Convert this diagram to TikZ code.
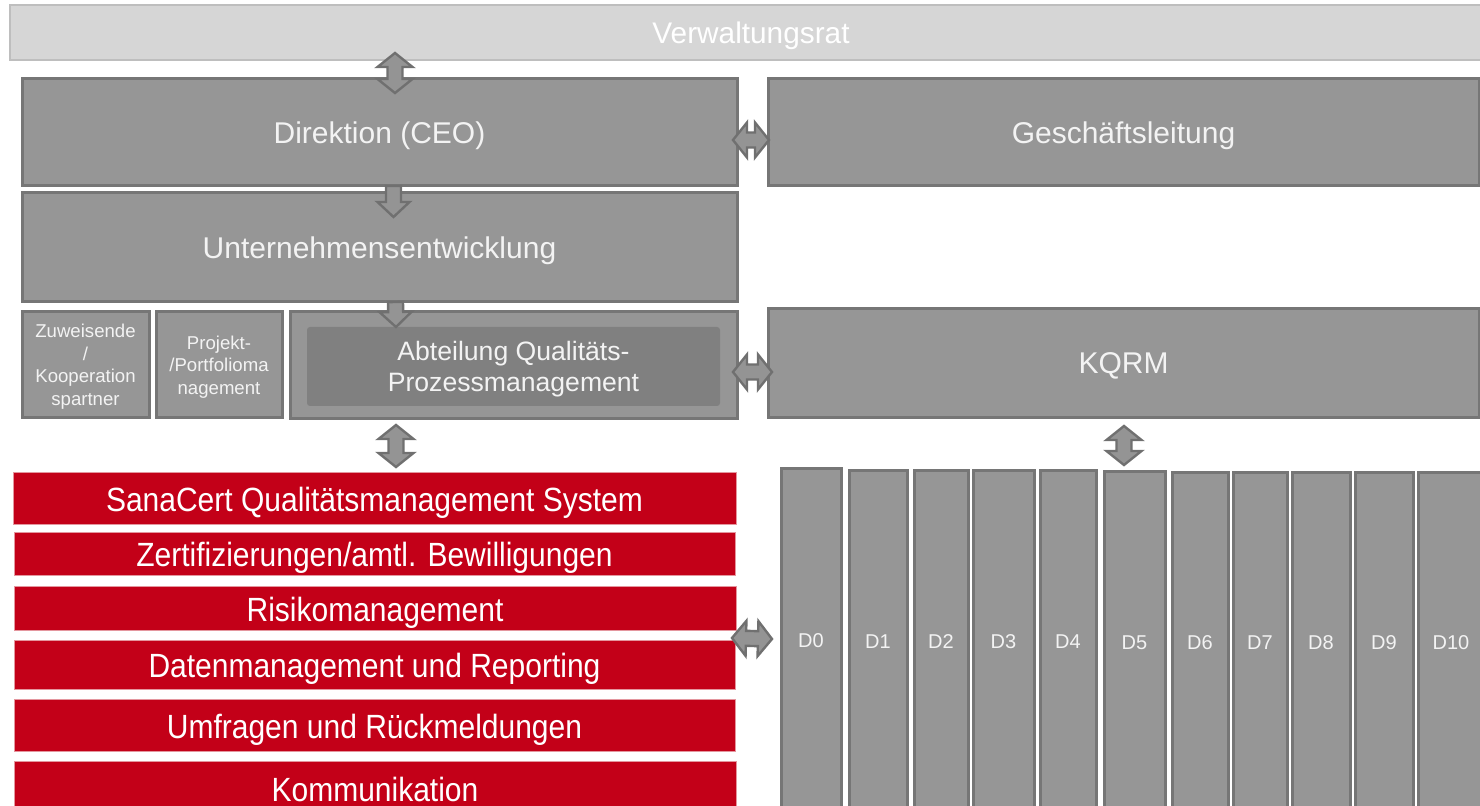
\documentclass[tikz,border=0pt]{standalone}
\usepackage{fontspec}
\usepackage{graphicx}
\setmainfont{Liberation Sans}
\usetikzlibrary{calc}

\definecolor{boxgray}{RGB}{150,150,150}
\definecolor{boxline}{RGB}{118,118,118}
\definecolor{topfill}{RGB}{214,214,214}
\definecolor{topline}{RGB}{190,190,190}
\definecolor{innergray}{RGB}{128,128,128}
\definecolor{qmred}{RGB}{195,0,24}
\definecolor{qmredline}{RGB}{228,150,158}
\definecolor{arrowfill}{RGB}{148,148,148}
\definecolor{arrowline}{RGB}{112,112,112}
\definecolor{lighttext}{RGB}{243,243,243}

% point of a block arrow: #1 along the arrow, #2 across it (both in pt)
\newcommand\blkpt[2]{({\x1+(#1)*\n2-(#2)*\n3},{\y1+(#1)*\n3+(#2)*\n2})}
% box given by its pixel corners (x1,y1) -- (x2,y2)
\newcommand\placebox[7]{\node[#2, anchor=north west,
  minimum width={((#5)-(#3))*0.5pt}, minimum height={((#6)-(#4))*0.5pt}] (#1) at (#3,#4) {#7};}
\newcommand\tallred[1]{\scalebox{1}[1.12]{#1}}

\tikzset{
  graybox/.style={fill=boxgray, draw=boxline, line width=1.5pt, text=lighttext,
    font=\fontsize{15}{18}\selectfont, inner sep=0pt, outer sep=0pt, text depth=0pt},
  topbox/.style={fill=topfill, draw=topline, line width=1.2pt, text=white,
    font=\fontsize{14.9}{18}\selectfont, inner sep=0pt, outer sep=0pt, text depth=0pt},
  smallbox/.style={graybox, align=center, font=\fontsize{9.3}{11.25}\selectfont},
  innerbox/.style={fill=innergray, rounded corners=1.5pt, text=lighttext, align=center,
    font=\fontsize{13.3}{15.5}\selectfont, inner sep=0pt, outer sep=0pt, text depth=0pt},
  redbox/.style={fill=qmred, draw=qmredline, line width=0.5pt, text=white,
    font=\fontsize{15}{18}\selectfont, inner sep=0pt, outer sep=0pt, text depth=0pt},
  deptcol/.style={graybox, font=\fontsize{10}{12}\selectfont},
  blockbase/.style={fill=arrowfill, draw=arrowline, line width=1.2pt, line join=miter},
  dblock/.style={blockbase, to path={
    let \p1=(\tikztostart), \p2=(\tikztotarget),
        \n1={veclen(\x2-\x1,\y2-\y1)},
        \n2={(\x2-\x1)/\n1}, \n3={(\y2-\y1)/\n1}
    in \blkpt{0}{0} -- \blkpt{7}{8.75} -- \blkpt{7}{3.75} -- \blkpt{\n1-7}{3.75}
       -- \blkpt{\n1-7}{8.75} -- \blkpt{\n1}{0} -- \blkpt{\n1-7}{-8.75}
       -- \blkpt{\n1-7}{-3.75} -- \blkpt{7}{-3.75} -- \blkpt{7}{-8.75} -- cycle}},
  sblock/.style={blockbase, to path={
    let \p1=(\tikztostart), \p2=(\tikztotarget),
        \n1={veclen(\x2-\x1,\y2-\y1)},
        \n2={(\x2-\x1)/\n1}, \n3={(\y2-\y1)/\n1}
    in \blkpt{0}{3.75} -- \blkpt{\n1-7.5}{3.75} -- \blkpt{\n1-7.5}{8}
       -- \blkpt{\n1}{0} -- \blkpt{\n1-7.5}{-8} -- \blkpt{\n1-7.5}{-3.75}
       -- \blkpt{0}{-3.75} -- cycle}},
}

\begin{document}
\begin{tikzpicture}[x=0.5pt, y=-0.5pt]
\useasboundingbox (0,0) rectangle (1480,806);
\clip (0,0) rectangle (1480,806);

% management levels
\placebox{vr}{topbox}{10}{5}{1492}{60}{Verwaltungsrat}
\placebox{dir}{graybox}{22}{79}{737}{186}{Direktion (CEO)}
\placebox{gl}{graybox}{768}{79}{1479}{186}{Geschäftsleitung}
\placebox{ue}{graybox}{22}{193}{737}{302}{Unternehmensentwicklung}

% staff units
\placebox{zuw}{smallbox}{22}{312}{149}{418}{Zuweisende\\/\\Kooperation\\spartner}
\placebox{ppm}{smallbox}{156}{312}{282}{418}{Projekt-\\/Portfolioma\\nagement}
\placebox{abt}{graybox}{290}{312}{737}{419}{}
\placebox{abtin}{innerbox}{307}{327}{720}{406}{Abteilung Qualitäts-\\Prozessmanagement}
\placebox{kq}{graybox}{768}{309}{1479}{418}{KQRM}

% quality management fields
\placebox{sana}{redbox}{13}{473}{736}{525}{\tallred{SanaCert Qualitätsmanagement System}}
\placebox{zert}{redbox}{14}{533}{735}{576}{\tallred{Zertifizierungen/amtl. Bewilligungen}}
\placebox{risk}{redbox}{14}{587}{736}{631}{\tallred{Risikomanagement}}
\placebox{data}{redbox}{14}{641}{735}{690}{\tallred{Datenmanagement und Reporting}}
\placebox{umfr}{redbox}{14}{700}{735}{752}{\tallred{Umfragen und Rückmeldungen}}
\placebox{komm}{redbox}{14}{762}{736}{816}{\tallred{Kommunikation}}

% departments
\placebox{d0}{deptcol}{781}{469}{841}{813}{D0}
\placebox{d1}{deptcol}{849}{471}{907}{813}{D1}
\placebox{d2}{deptcol}{914}{471}{968}{813}{D2}
\placebox{d3}{deptcol}{973}{471}{1034}{813}{D3}
\placebox{d4}{deptcol}{1040}{471}{1096}{813}{D4}
\placebox{d5}{deptcol}{1104}{472}{1165}{813}{D5}
\placebox{d6}{deptcol}{1172}{473}{1228}{813}{D6}
\placebox{d7}{deptcol}{1233}{473}{1287}{813}{D7}
\placebox{d8}{deptcol}{1292}{473}{1350}{813}{D8}
\placebox{d9}{deptcol}{1355}{473}{1413}{813}{D9}
\placebox{d10}{deptcol}{1418}{473}{1484}{813}{D10}

% block arrows
\draw[dblock] ([xshift=192.5pt,yshift=3.5pt]vr.south west) to ([xshift=7.75pt,yshift=-7pt]dir.north);
\draw[dblock] ([xshift=-2pt,yshift=-3.75pt]dir.east) to ([xshift=0.5pt,yshift=-3.75pt]gl.west);
\draw[sblock] ([xshift=7pt]dir.south) to ([xshift=7pt,yshift=-12pt]ue.north);
\draw[sblock] ([xshift=8pt]ue.south) to ([xshift=-58.75pt,yshift=-7.5pt]abt.north);
\draw[dblock] ([xshift=-58.75pt,yshift=-3pt]abt.south) to ([xshift=10.75pt,yshift=3pt]sana.north);
\draw[dblock] ([xshift=-2pt,yshift=-3.25pt]abt.east) to ([xshift=2pt,yshift=-4.25pt]kq.west);
\draw[dblock] ([xshift=0.25pt,yshift=-4pt]kq.south) to ([xshift=-5.25pt,yshift=3.5pt]d5.north);
\draw[dblock] ([xshift=-2pt,yshift=-3.5pt]risk.south east) to ([xshift=-4.5pt,yshift=1pt]d0.west);
\end{tikzpicture}
\end{document}
